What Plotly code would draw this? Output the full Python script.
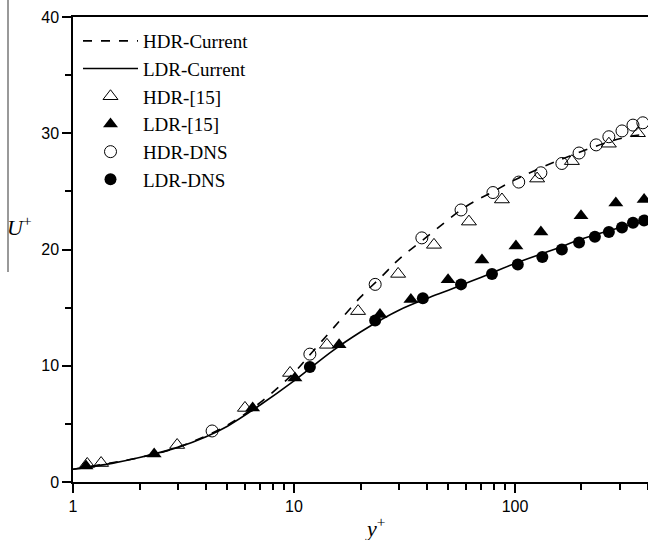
import plotly.graph_objects as go

# ---- data ----
hdr_cur_x = [1, 2, 3, 5, 7, 10, 12, 15, 20, 25, 30, 40, 60, 80, 100, 130, 180, 270, 350, 400]
hdr_cur_y = [1.1, 2.1, 3.0, 4.9, 6.8, 9.4, 11.1, 13.2, 15.9, 17.7, 19.2, 21.1, 23.7, 25.0, 26.0, 27.0, 28.1, 29.3, 29.8, 29.9]

ldr_cur_x = [1, 1.5, 2, 3, 4, 5, 7, 10, 15, 20, 25, 30, 40, 50, 70, 100, 150, 200, 300, 400]
ldr_cur_y = [1.1, 1.6, 2.1, 3.0, 3.9, 4.8, 6.6, 8.7, 11.3, 12.9, 14.0, 14.8, 15.8, 16.5, 17.6, 18.8, 20.0, 20.9, 21.9, 22.5]

hdr15_x = [1.16, 1.34, 2.96, 6.0, 9.6, 14.1, 19.5, 29.6, 43.0, 61.9, 87.3, 126, 181, 266, 360]
hdr15_y = [1.55, 1.63, 3.18, 6.37, 9.38, 11.8, 14.7, 17.9, 20.4, 22.4, 24.3, 26.1, 27.6, 29.1, 30.0]

ldr15_x = [1.145, 2.33, 6.5, 10.1, 16.0, 24.5, 33.8, 49.8, 70.9, 101, 131, 199, 286, 384]
ldr15_y = [1.38, 2.4, 6.37, 8.95, 11.8, 14.4, 15.7, 17.4, 19.1, 20.3, 21.5, 22.9, 24.0, 24.3]

hdrdns_x = [4.26, 11.8, 23.3, 37.9, 57.0, 79.5, 104, 131, 163, 195, 233, 266, 305, 342, 379]
hdrdns_y = [4.39, 11.0, 17.0, 21.0, 23.4, 24.9, 25.8, 26.6, 27.4, 28.3, 29.0, 29.7, 30.2, 30.7, 30.9]

ldrdns_x = [11.8, 23.3, 38.3, 57.0, 78.7, 103, 133, 163, 195, 230, 266, 305, 342, 384]
ldrdns_y = [9.9, 13.9, 15.8, 17.0, 17.9, 18.7, 19.35, 20.0, 20.6, 21.1, 21.5, 21.9, 22.3, 22.5]

serif = "Liberation Serif"
sans = "Liberation Sans"

fig = go.Figure()
fig.add_trace(go.Scatter(x=hdr_cur_x, y=hdr_cur_y, mode="lines", name="HDR-Current",
                         line=dict(color="black", width=1.6, dash="dash", shape="spline"),
                         legendgroup="a"))
fig.add_trace(go.Scatter(x=ldr_cur_x, y=ldr_cur_y, mode="lines", name="LDR-Current",
                         line=dict(color="black", width=1.6, shape="spline"),
                         legendgroup="b"))
fig.add_trace(go.Scatter(x=hdr15_x, y=hdr15_y, mode="markers", name="HDR-[15]",
                         marker=dict(symbol="triangle-up-open", size=13, color="black",
                                     line=dict(width=1)),
                         legendgroup="c"))
fig.add_trace(go.Scatter(x=ldr15_x, y=ldr15_y, mode="markers", name="LDR-[15]",
                         marker=dict(symbol="triangle-up", size=13, color="black"),
                         legendgroup="d"))
fig.add_trace(go.Scatter(x=hdrdns_x, y=hdrdns_y, mode="markers", name="HDR-DNS",
                         marker=dict(symbol="circle-open", size=12, color="black",
                                     line=dict(width=1)),
                         legendgroup="e"))
fig.add_trace(go.Scatter(x=ldrdns_x, y=ldrdns_y, mode="markers", name="LDR-DNS",
                         marker=dict(symbol="circle", size=12, color="black"),
                         legendgroup="f"))

fig.update_layout(
    width=648, height=540,
    margin=dict(l=73, r=0, t=17, b=58),
    paper_bgcolor="white", plot_bgcolor="white",
    showlegend=True,
    legend=dict(x=5 / 575, y=1 - 5 / 465, xanchor="left", yanchor="top",
                font=dict(family=serif, size=19, color="black"),
                bgcolor="rgba(0,0,0,0)", tracegroupgap=0,
                itemwidth=55),
    xaxis=dict(type="log", range=[0, 2.602],
               showline=True, linecolor="black", linewidth=1.5, mirror=True,
               ticks="outside", ticklen=9, tickwidth=1.5, tickcolor="black",
               tickvals=[1, 10, 100], ticktext=["1", "10", "100"],
               minor=dict(ticks="outside", ticklen=6, tickwidth=1.5, tickcolor="black",
                          tickvals=[2, 3, 4, 5, 6, 7, 8, 9, 20, 30, 40, 50, 60, 70, 80, 90, 200, 300, 400]),
               showgrid=False, zeroline=False,
               tickfont=dict(family=sans, size=16, color="black")),
    yaxis=dict(range=[0, 40],
               showline=True, linecolor="black", linewidth=1.5, mirror=False,
               ticks="outside", ticklen=9, tickwidth=1.5, tickcolor="black",
               tickvals=[0, 10, 20, 30, 40],
               minor=dict(ticks="outside", ticklen=6, tickwidth=1.5, tickcolor="black",
                          tickvals=[5, 15, 25, 35]),
               showgrid=False, zeroline=False,
               tickfont=dict(family=sans, size=16, color="black")),
)

fig.add_annotation(text="<i>y</i><sup>+</sup>", xref="paper", yref="paper",
                   x=(375 - 73) / 575, y=(482 - 527) / 465, showarrow=False,
                   xanchor="center", yanchor="middle",
                   font=dict(family=serif, size=22, color="black"))
fig.add_annotation(text="<i>U</i><sup>+</sup>", xref="paper", yref="paper",
                   x=(19 - 73) / 575, y=(482 - 226) / 465, showarrow=False,
                   xanchor="center", yanchor="middle",
                   font=dict(family=serif, size=22, color="black"))
fig.add_shape(type="line", xref="paper", yref="paper",
              x0=(8 - 73) / 575, x1=(8 - 73) / 575, y0=482 / 465, y1=(482 - 272) / 465,
              line=dict(color="#555555", width=1.2))

fig.write_html("out.html")
